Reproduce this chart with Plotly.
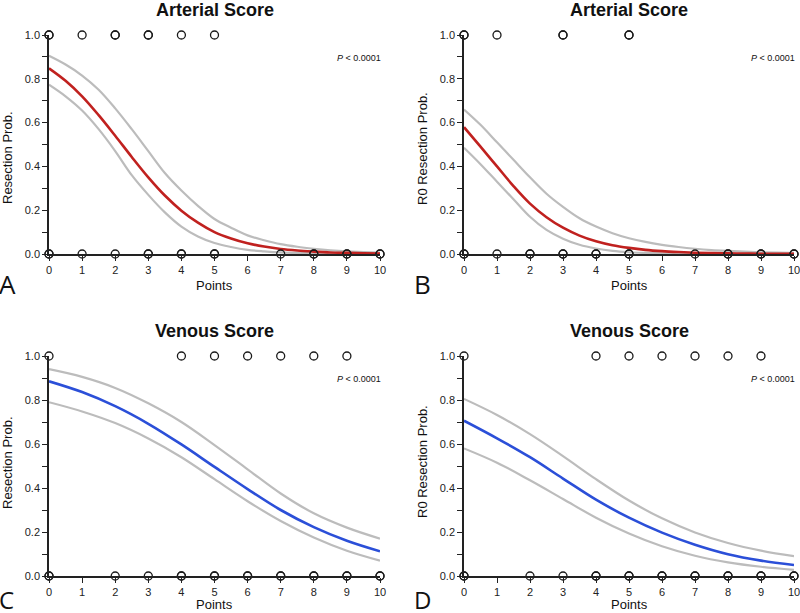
import plotly.graph_objects as go

pts_half = [i / 2 for i in range(21)]
pts_int = list(range(11))

# Panel A: Arterial score vs resection probability (read at half-point steps)
a_fit = [0.848, 0.791, 0.72, 0.634, 0.54, 0.443, 0.35, 0.267, 0.198, 0.143, 0.10,
         0.071, 0.049, 0.034, 0.023, 0.016, 0.011, 0.007, 0.005, 0.003, 0.002]
a_upper = [0.905, 0.865, 0.815, 0.75, 0.665, 0.57, 0.47, 0.37, 0.29, 0.22, 0.16,
           0.12, 0.085, 0.063, 0.045, 0.033, 0.024, 0.017, 0.012, 0.009, 0.006]
a_lower = [0.773, 0.72, 0.655, 0.57, 0.47, 0.36, 0.27, 0.19, 0.125, 0.08, 0.05,
           0.032, 0.019, 0.012, 0.007, 0.005, 0.003, 0.002, 0.001, 0.0005, 0.0]
a_obs1 = [0, 0, 1, 2, 2, 3, 3, 4, 5]
a_obs0 = [0, 0, 1, 2, 3, 3, 4, 4, 5, 5, 7, 8, 8, 9, 9, 10, 10]

# Panel B: Arterial score vs R0 resection probability (half-point steps)
b_fit = [0.579, 0.49, 0.40, 0.31, 0.23, 0.168, 0.12, 0.084, 0.058, 0.04, 0.028,
         0.019, 0.013, 0.009, 0.006, 0.004, 0.003, 0.002, 0.001, 0.001, 0.0005]
b_upper = [0.66, 0.59, 0.51, 0.43, 0.35, 0.275, 0.215, 0.163, 0.125, 0.095, 0.072,
           0.055, 0.042, 0.032, 0.024, 0.018, 0.014, 0.011, 0.008, 0.006, 0.005]
b_lower = [0.485, 0.41, 0.33, 0.25, 0.17, 0.11, 0.07, 0.042, 0.025, 0.014, 0.008,
           0.005, 0.003, 0.002, 0.001, 0.0005, 0.0, 0.0, 0.0, 0.0, 0.0]
b_obs1 = [0, 0, 1, 3, 3, 5, 5]
b_obs0 = [0, 0, 1, 2, 2, 3, 3, 4, 4, 5, 5, 7, 8, 8, 9, 9, 10, 10]

# Panel C: Venous score vs resection probability (integer steps)
c_fit = [0.885, 0.836, 0.772, 0.692, 0.598, 0.496, 0.395, 0.30, 0.222, 0.16, 0.112]
c_upper = [0.94, 0.905, 0.855, 0.785, 0.70, 0.595, 0.485, 0.375, 0.285, 0.22, 0.17]
c_lower = [0.79, 0.748, 0.695, 0.625, 0.54, 0.44, 0.34, 0.25, 0.175, 0.115, 0.07]
c_obs1 = [0, 4, 5, 6, 7, 8, 9]
c_obs0 = [0, 0, 2, 3, 4, 4, 5, 5, 6, 6, 7, 7, 8, 8, 9, 9, 10, 10]

# Panel D: Venous score vs R0 resection probability (integer steps)
d_fit = [0.706, 0.626, 0.54, 0.443, 0.347, 0.265, 0.197, 0.142, 0.099, 0.07, 0.05]
d_upper = [0.805, 0.732, 0.645, 0.545, 0.44, 0.343, 0.262, 0.198, 0.15, 0.115, 0.09]
d_lower = [0.58, 0.515, 0.435, 0.35, 0.265, 0.193, 0.135, 0.092, 0.062, 0.042, 0.028]
d_obs1 = [0, 4, 5, 6, 7, 8, 9]
d_obs0 = [0, 0, 2, 3, 4, 4, 5, 5, 6, 6, 7, 7, 8, 8, 9, 9, 10, 10]

titles = ["Arterial Score", "Arterial Score", "Venous Score", "Venous Score"]
ylabels = ["Resection Prob.", "R0 Resection Prob.", "Resection Prob.", "R0 Resection Prob."]
letters = ["A", "B", "C", "D"]
p_text = "<i>P</i> < 0.0001"

RED = "#c0211f"
BLUE = "#2b4fd8"
GRAY = "#bcbcbc"

W, H = 800, 613
# panel geometry in pixels: (x at 0, x at 10, y at 1.0, y at 0.0)
geo = [(49, 380, 35, 254), (464, 794, 35, 254), (49, 380, 356, 576), (464, 794, 356, 576)]
ylab_pos = [(7, 158), (422, 149), (7, 463), (422, 462)]
label_off = [31, 31, 28, 28]    # "Points" offset below axis
letter_off = [30, 30, 23, 23]   # panel letter offset below axis
letter_size = [26, 26, 24, 24]

panels = [
    (pts_half, a_fit, a_upper, a_lower, a_obs1, a_obs0, RED),
    (pts_half, b_fit, b_upper, b_lower, b_obs1, b_obs0, RED),
    (pts_int, c_fit, c_upper, c_lower, c_obs1, c_obs0, BLUE),
    (pts_int, d_fit, d_upper, d_lower, d_obs1, d_obs0, BLUE),
]

fig = go.Figure()
annotations = []
FONT = "Liberation Sans, Arial, sans-serif"
NARROW = "Liberation Sans Narrow, Arial Narrow, Liberation Sans, sans-serif"

for i, (xs, fit, up, lo, o1, o0, col) in enumerate(panels):
    n = "" if i == 0 else str(i + 1)
    xa, ya = "x" + n, "y" + n
    for band in (up, lo):
        fig.add_trace(go.Scatter(x=xs, y=band, mode="lines", xaxis=xa, yaxis=ya,
                                 line=dict(color=GRAY, width=2.2, shape="spline", smoothing=1.0),
                                 showlegend=False, hoverinfo="skip"))
    fig.add_trace(go.Scatter(x=xs, y=fit, mode="lines", xaxis=xa, yaxis=ya,
                             line=dict(color=col, width=2.6, shape="spline", smoothing=1.0),
                             showlegend=False))
    fig.add_trace(go.Scatter(x=o1 + o0, y=[1.0] * len(o1) + [0.0] * len(o0), mode="markers",
                             xaxis=xa, yaxis=ya, cliponaxis=False,
                             marker=dict(symbol="circle-open", size=8, color="#1a1a1a",
                                         line=dict(width=1.3, color="#1a1a1a")),
                             showlegend=False))

    x0, x10, yt, yb = geo[i]
    dom_x = [x0 / W, x10 / W]
    dom_y = [1 - yb / H, 1 - yt / H]
    axis_common = dict(showgrid=False, zeroline=False, showline=True, linecolor="#222",
                       linewidth=1.5, ticks="outside", tickcolor="#222", tickwidth=1.3,
                       ticklen=5, automargin=False, ticklabeloverflow="allow",
                       tickfont=dict(family=FONT, size=11, color="#222"))
    fig.update_layout(**{
        ("xaxis" + n): dict(domain=dom_x, range=[0, 10], tickmode="linear", tick0=0, dtick=1,
                            anchor=ya, **axis_common),
        ("yaxis" + n): dict(domain=dom_y, range=[0, 1], tickmode="linear", tick0=0, dtick=0.2,
                            tickformat=".1f", anchor=xa,
                            minor=dict(dtick=0.1, ticks="outside", ticklen=5, tickcolor="#222",
                                       tickwidth=1.3),
                            **axis_common),
    })
    cx = (x0 + x10) / 2
    annotations.append(dict(text=titles[i], x=cx / W, y=1 - (yt - 25) / H, xref="paper", yref="paper",
                            showarrow=False, xanchor="center", yanchor="middle",
                            font=dict(family=FONT, size=18, color="#111", weight="bold")))
    annotations.append(dict(text="Points", x=cx / W, y=1 - (yb + label_off[i]) / H,
                            xref="paper", yref="paper",
                            showarrow=False, xanchor="center", yanchor="middle",
                            font=dict(family=FONT, size=13, color="#111")))
    lx, ly = ylab_pos[i]
    annotations.append(dict(text=ylabels[i], x=lx / W, y=1 - ly / H,
                            xref="paper", yref="paper", textangle=-90,
                            showarrow=False, xanchor="center", yanchor="middle",
                            font=dict(family=NARROW if i % 2 == 0 else FONT, size=13, color="#111")))
    annotations.append(dict(text=p_text, x=(x10 + 3) / W, y=1 - (yt + 23) / H, xref="paper", yref="paper",
                            showarrow=False, xanchor="right", yanchor="middle",
                            font=dict(family=FONT, size=9, color="#111")))
    annotations.append(dict(text=letters[i], x=(x0 - 52) / W, y=1 - (yb + letter_off[i]) / H,
                            xref="paper", yref="paper", showarrow=False,
                            xanchor="left", yanchor="middle",
                            font=dict(family="Open Sans, sans-serif", size=letter_size[i], color="#111")))

fig.update_layout(width=W, height=H, margin=dict(l=0, r=0, t=0, b=0),
                  paper_bgcolor="white", plot_bgcolor="white",
                  annotations=annotations, showlegend=False)

fig.write_html("out.html", config={"displayModeBar": False},
               post_script="document.body.style.margin='0';document.body.style.padding='0';"
                           "document.body.style.overflow='hidden';")
